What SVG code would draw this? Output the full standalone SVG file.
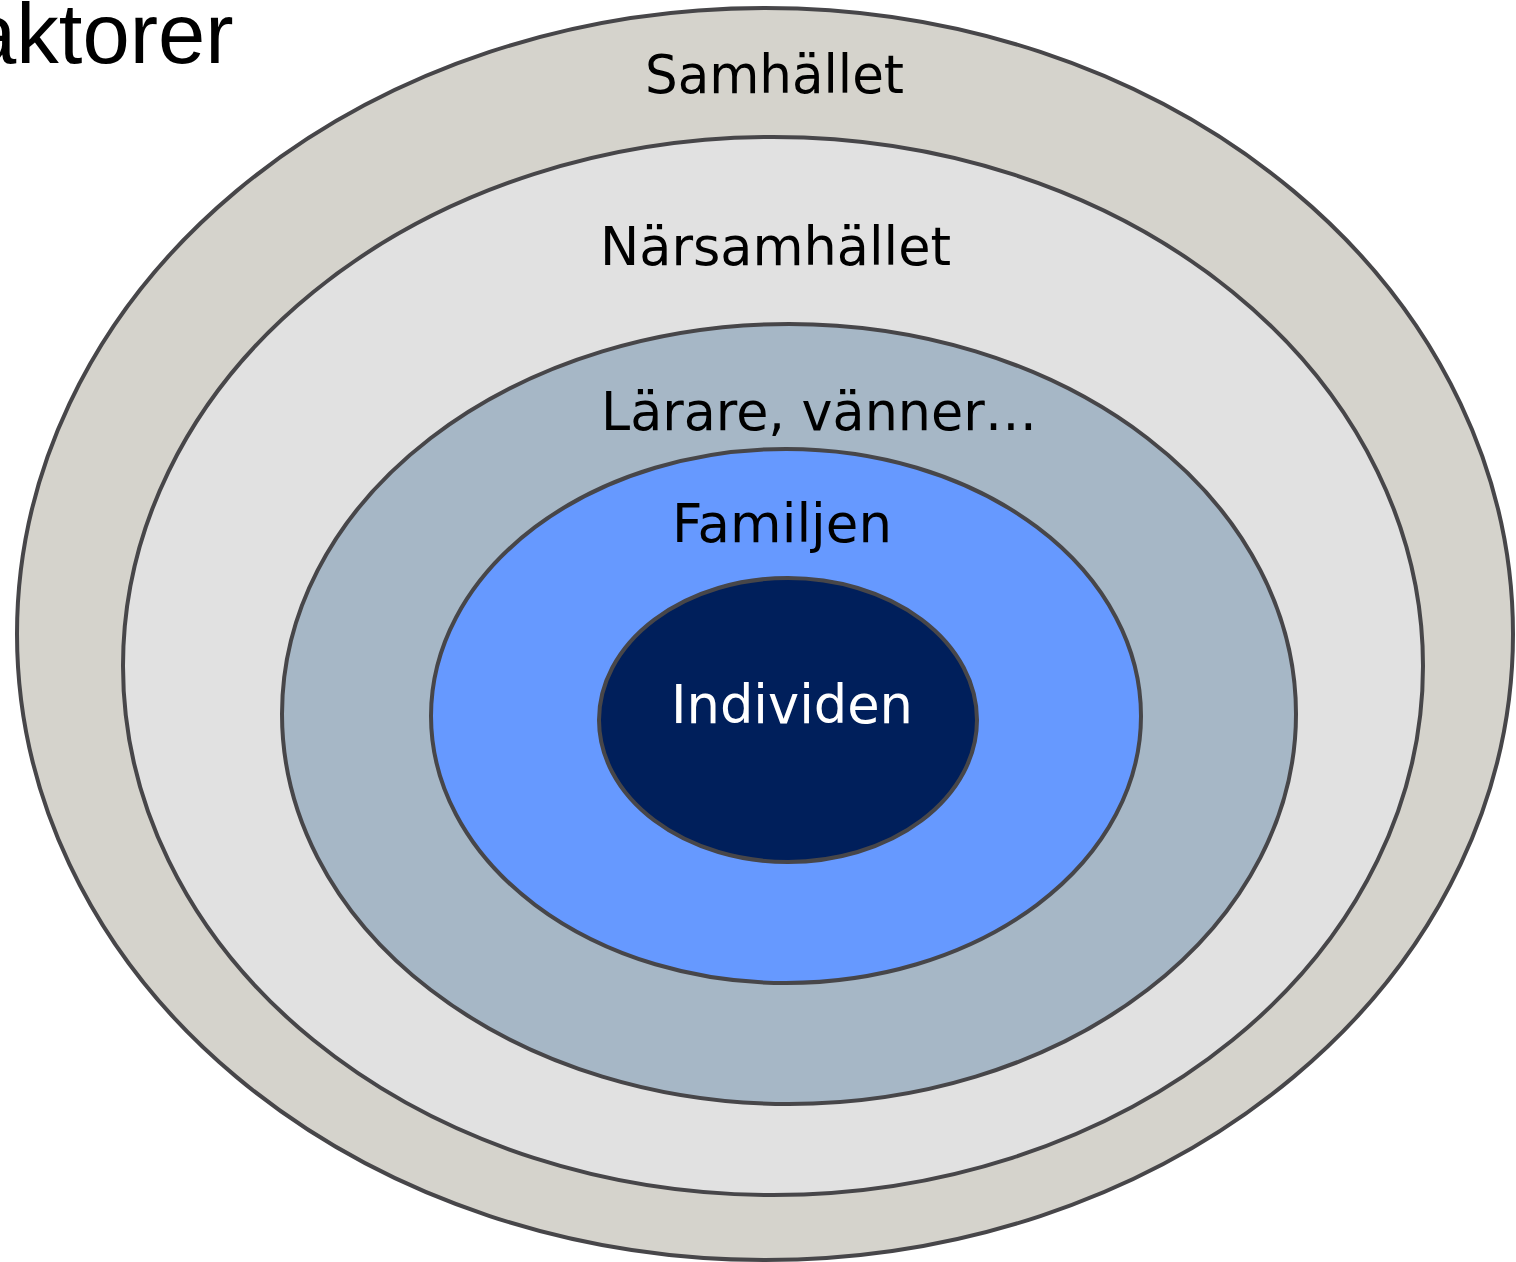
<svg xmlns="http://www.w3.org/2000/svg" width="1516" height="1262" viewBox="0 0 1516 1262">
  <style>
    .ring { stroke: #474649; stroke-width: 4; }
    .lbl { font-family: "DejaVu Sans", "Liberation Sans", sans-serif; font-size: 53px; fill: #000; }
    .title { font-family: "Liberation Sans", Arial, sans-serif; font-size: 85px; fill: #000; }
  </style>
  <rect width="1516" height="1262" fill="#ffffff"/>
  <text class="title" x="-31" y="63">aktorer</text>
  <g id="samhallet">
    <ellipse class="ring" cx="765" cy="634" rx="748" ry="626" fill="#D5D3CC"/>
    <text class="lbl" x="645" y="93" textLength="259" lengthAdjust="spacingAndGlyphs">Samhället</text>
  </g>
  <g id="narsamhallet">
    <ellipse class="ring" cx="773" cy="666" rx="650" ry="529" fill="#E1E1E1"/>
    <text class="lbl" x="600" y="265" textLength="351" lengthAdjust="spacingAndGlyphs">Närsamhället</text>
  </g>
  <g id="larare">
    <ellipse class="ring" cx="789" cy="714" rx="507" ry="390" fill="#A6B7C6"/>
    <text class="lbl" x="601" y="430" textLength="436" lengthAdjust="spacingAndGlyphs">Lärare, vänner…</text>
  </g>
  <g id="familjen">
    <ellipse class="ring" cx="786" cy="716" rx="355" ry="267" fill="#6699FF"/>
    <text class="lbl" x="672" y="542" textLength="220" lengthAdjust="spacingAndGlyphs">Familjen</text>
  </g>
  <g id="individen">
    <ellipse class="ring" cx="788" cy="720" rx="189" ry="142" fill="#001F5B"/>
    <text class="lbl" x="671" y="723" textLength="242" lengthAdjust="spacingAndGlyphs" fill="#ffffff" style="fill:#ffffff">Individen</text>
  </g>
  <g id="connectors"/>
</svg>
